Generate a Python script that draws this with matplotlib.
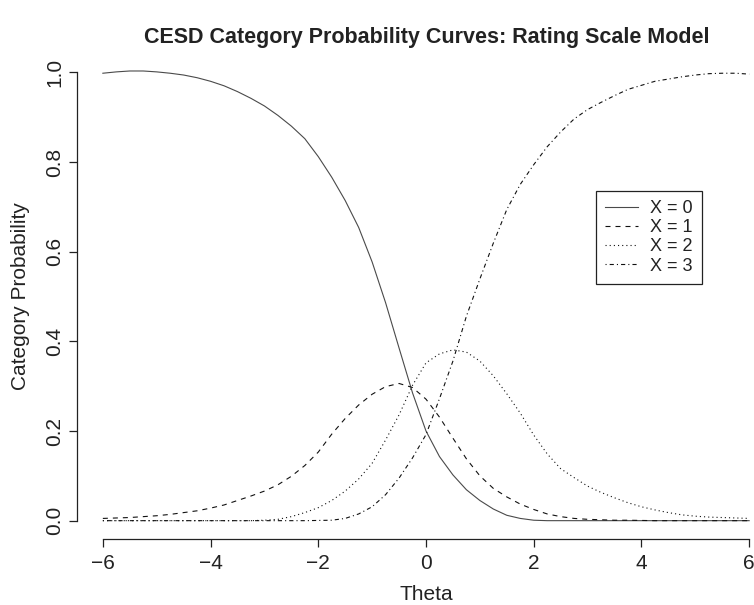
import matplotlib
matplotlib.use("Agg")
import matplotlib.pyplot as plt

plt.rcParams["font.family"] = ["Liberation Sans", "DejaVu Sans"]
plt.rcParams["lines.scale_dashes"] = False

# Ability grid and category probabilities (rating scale model, CESD items)
theta = [-6, -5.75, -5.5, -5.25, -5, -4.75, -4.5, -4.25, -4, -3.75, -3.5, -3.25,
         -3, -2.75, -2.5, -2.25, -2, -1.75, -1.5, -1.25, -1, -0.75, -0.5, -0.25,
         0, 0.25, 0.5, 0.75, 1, 1.25, 1.5, 1.75, 2, 2.25, 2.5, 2.75,
         3, 3.25, 3.5, 3.75, 4, 4.25, 4.5, 4.75, 5, 5.25, 5.5, 5.75, 6]

p_x0 = [0.998, 1.001, 1.003, 1.003, 1.001, 0.998, 0.994, 0.988, 0.980, 0.970, 0.957, 0.942,
        0.925, 0.904, 0.880, 0.852, 0.812, 0.766, 0.714, 0.654, 0.577, 0.486, 0.385, 0.285,
        0.200, 0.143, 0.102, 0.069, 0.045, 0.026, 0.012, 0.005, 0.001, 0.0, 0.0, 0.0,
        0.0, 0.0, 0.0, 0.0, 0.0, 0.0, 0.0, 0.0, 0.0, 0.0, 0.0, 0.0, 0.0]

p_x1 = [0.005, 0.006, 0.007, 0.009, 0.011, 0.014, 0.018, 0.022, 0.028, 0.035, 0.045, 0.055,
        0.066, 0.080, 0.099, 0.123, 0.153, 0.193, 0.228, 0.258, 0.282, 0.299, 0.306, 0.297,
        0.271, 0.231, 0.184, 0.138, 0.100, 0.072, 0.053, 0.037, 0.025, 0.015, 0.009, 0.005,
        0.003, 0.002, 0.001, 0.001, 0.0005, 0.0, 0.0, 0.0, 0.0, 0.0, 0.0, 0.0, 0.0]

p_x2 = [0.0, 0.0, 0.0, 0.0, 0.0, 0.0, 0.0, 0.0, 0.0, 0.0, 0.0, 0.0,
        0.001, 0.003, 0.009, 0.018, 0.029, 0.045, 0.066, 0.093, 0.128, 0.180, 0.236, 0.302,
        0.352, 0.372, 0.381, 0.376, 0.356, 0.323, 0.283, 0.240, 0.191, 0.149, 0.116, 0.096,
        0.077, 0.063, 0.051, 0.040, 0.031, 0.024, 0.018, 0.013, 0.010, 0.008, 0.007, 0.006, 0.005]

p_x3 = [0.0, 0.0, 0.0, 0.0, 0.0, 0.0, 0.0, 0.0, 0.0, 0.0, 0.0, 0.0,
        0.0, 0.0, 0.0, 0.0, 0.0005, 0.001, 0.005, 0.015, 0.031, 0.058, 0.095, 0.140,
        0.192, 0.272, 0.356, 0.456, 0.539, 0.619, 0.694, 0.750, 0.794, 0.834, 0.867, 0.896,
        0.917, 0.933, 0.948, 0.962, 0.971, 0.980, 0.985, 0.990, 0.994, 0.997, 0.998, 0.998, 0.996]

labels = ["X = 0", "X = 1", "X = 2", "X = 3"]
x_ticks = [-6, -4, -2, 0, 2, 4, 6]
y_ticks = [0.0, 0.2, 0.4, 0.6, 0.8, 1.0]

W, H = 754, 605
fig = plt.figure(figsize=(W / 100, H / 100), dpi=100)

# plot region in pixels (R-style 4% padding around the data range)
left, right, bottom, top = 77, 775, 538.6, 54.4
ax = fig.add_axes([left / W, 1 - bottom / H, (right - left) / W, (bottom - top) / H])
ax.set_xlim(-6.48, 6.48)
ax.set_ylim(-0.04, 1.04)

lw = 0.8
styles = [
    dict(color="#4a4a4a", linestyle="-"),
    dict(color="#111111", linestyle=(0, (3.6, 3.6))),
    dict(color="#111111", linestyle=(0, (0.8, 2.2))),
    dict(color="#111111", linestyle=(0, (0.8, 2.2, 3.0, 2.2))),
]
series = [p_x0, p_x1, p_x2, p_x3]
handles = []
for ys, st, lab in zip(series, styles, labels):
    h, = ax.plot(theta, ys, lw=lw, label=lab, **st)
    handles.append(h)

# R-like detached axes
for s in ["top", "right"]:
    ax.spines[s].set_visible(False)
ax.spines["left"].set_bounds(0, 1)
ax.spines["bottom"].set_bounds(-6, 6)
for s in ["left", "bottom"]:
    ax.spines[s].set_linewidth(0.9)
    ax.spines[s].set_color("#222222")

fs = 15
ax.set_xticks(x_ticks)
ax.set_xticklabels(["\u22126", "\u22124", "\u22122", "0", "2", "4", "6"])
ax.set_yticks(y_ticks)
ax.set_yticklabels([f"{v:.1f}" for v in y_ticks], rotation=90, va="center")
ax.tick_params(axis="both", length=6, width=0.9, color="#222222",
               labelsize=fs, labelcolor="#222222")
ax.tick_params(axis="x", pad=5)
ax.tick_params(axis="y", pad=3)

ax.set_xlabel("Theta", fontsize=fs, color="#222222", labelpad=9)
ax.set_ylabel("Category Probability", fontsize=fs, color="#222222", labelpad=11)

fig.text(427 / W, 1 - 37 / H, "CESD Category Probability Curves: Rating Scale Model",
         ha="center", va="center", fontsize=15.5, fontweight="bold", color="#222222")

leg = ax.legend(handles=handles, loc="upper left",
                bbox_to_anchor=(596 / W, 1 - 191 / H), bbox_transform=fig.transFigure,
                fancybox=False, framealpha=1, edgecolor="#222222", fontsize=13,
                borderaxespad=0, borderpad=0.5, labelspacing=0.12,
                handlelength=1.85, handletextpad=0.65)
leg.get_frame().set_linewidth(0.9)
for t in leg.get_texts():
    t.set_color("#222222")

fig.savefig("out.png", dpi=100)
